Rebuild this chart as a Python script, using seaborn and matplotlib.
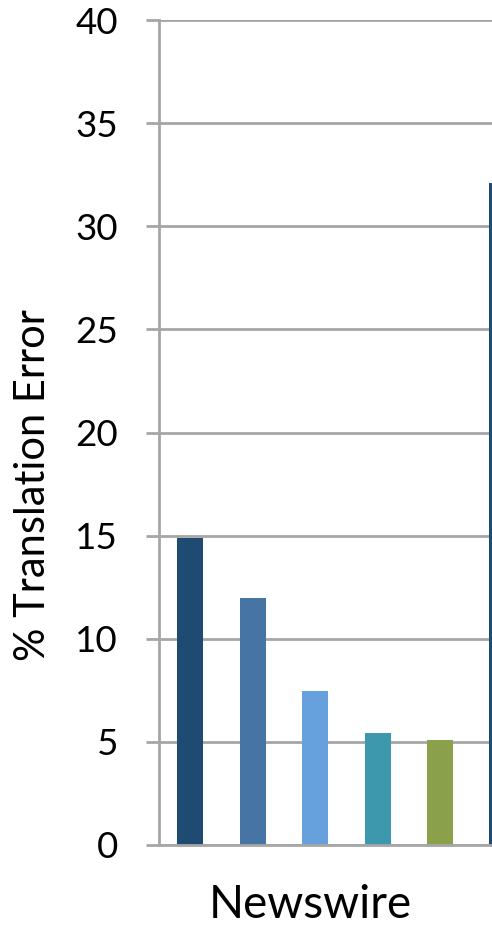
import matplotlib
matplotlib.use("Agg")
import matplotlib.pyplot as plt
import seaborn as sns
import pandas as pd

systems = ["S1", "S2", "S3", "S4", "S5", "S6"]
errors = [14.9, 12.0, 7.47, 5.44, 5.1, 32.1]
colors = ["#1F4A72", "#4674A4", "#66A1DE", "#3D97AD", "#8AA04A", "#1F4A72"]
y_ticks = [0, 5, 10, 15, 20, 25, 30, 35, 40]
group_label = "Newswire"
y_label = "% Translation Error"

sns.set_theme(style="white")
plt.rcParams["font.family"] = ["Lato", "DejaVu Sans"]

df = pd.DataFrame({"system": systems, "error": errors})

W, H = 492, 926
fig = plt.figure(figsize=(W / 100, H / 100), dpi=100)
left_px, bottom_px, top_px = 159, 845, 20
right_frac = 1.1
ax_w_px = right_frac * W - left_px
ax = fig.add_axes([left_px / W, (H - bottom_px) / H, ax_w_px / W, (bottom_px - top_px) / H])

step = 62.5
sns.barplot(data=df, x="system", y="error", hue="system", palette=colors,
            width=26 / step, dodge=False, legend=False, ax=ax, saturation=1,
            linewidth=0)

x0 = -(190 - left_px) / step
ax.set_xlim(x0, x0 + ax_w_px / step)
ax.set_ylim(0, 40)
ax.set_yticks(y_ticks)
ax.set_yticklabels([str(t) for t in y_ticks], fontsize=26.5, color="black")
ax.set_xticks([])
ax.set_xlabel("")
ax.set_ylabel(y_label, fontsize=30, color="black")
ax.yaxis.set_label_coords((52 - left_px) / ax_w_px, (bottom_px - 485) / (bottom_px - top_px))
ax.yaxis.grid(True, color="#A6A6A6", linewidth=2)
ax.set_axisbelow(True)
for s in ["top", "right"]:
    ax.spines[s].set_visible(False)
ax.spines["left"].set_color("#A6A6A6")
ax.spines["left"].set_linewidth(2)
ax.spines["bottom"].set_color("#A6A6A6")
ax.spines["bottom"].set_linewidth(2)
ax.tick_params(axis="y", length=9.5, width=2, color="#A6A6A6", pad=20, left=True)

fig.text(310 / W, 1 - 905 / H, group_label, fontsize=33, ha="center", va="center", color="black")

fig.savefig("out.png", dpi=100)
